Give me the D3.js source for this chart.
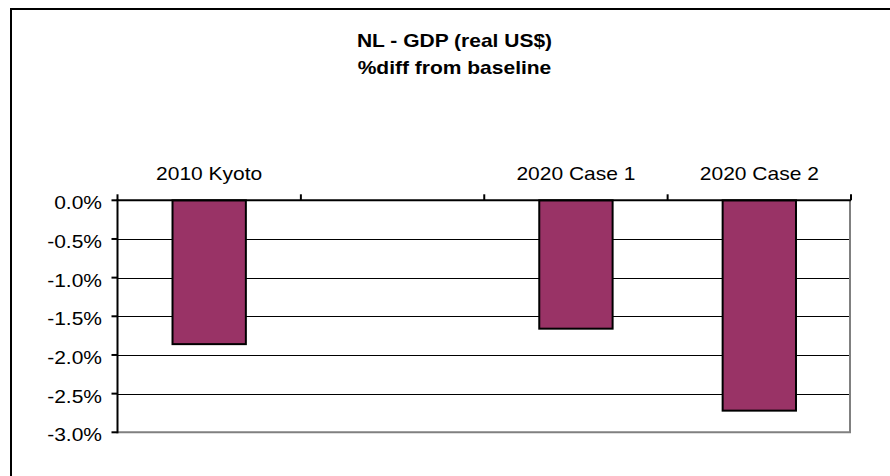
<!DOCTYPE html>
<html>
<head>
<meta charset="utf-8">
<script src="https://cdn.jsdelivr.net/npm/d3@7"></script>
<style>
  html, body { margin: 0; padding: 0; background: #fff; }
  svg { display: block; font-family: Arial, "Liberation Sans", sans-serif; }
</style>
</head>
<body>
<svg id="chart" width="890" height="476"></svg>
<script>
// Percentage change of real GDP (US$) from the baseline, Netherlands
const categories = ["2010 Kyoto", "", "2020 Case 1", "2020 Case 2"];
const gdpDiff = [-1.86, null, -1.66, -2.72];
const yTicks = [0, -0.5, -1.0, -1.5, -2.0, -2.5, -3.0];
const titleLines = ["NL - GDP (real US$)", "%diff from baseline"];

const svg = d3.select("#chart");
const stretch = 1.18;           // labels are drawn horizontally widened
const fontSize = 17.8;
const plot = { left: 117.5, right: 851, top: 200.3, bottom: 432.3 };

const x = d3.scaleBand().domain(d3.range(categories.length))
  .range([plot.left, plot.right]).padding(0);
const y = d3.scaleLinear().domain([-3, 0]).range([plot.bottom, plot.top]);
// plain hyphen for the minus sign
const fmt = v => d3.format(".1f")(Math.abs(v) < 1e-9 ? 0 : v).replace("\u2212", "-") + "%";

// outer frame (top and left edges run off the page)
svg.append("path")
  .attr("d", "M11,476V9H890")
  .attr("fill", "none").attr("stroke", "#000").attr("stroke-width", 2);

// title
svg.append("g").selectAll("text").data(titleLines).join("text")
  .attr("transform", (d, i) => `translate(454.5,${46.7 + i * 27.6}) scale(${stretch},1)`)
  .attr("text-anchor", "middle")
  .attr("font-size", fontSize).attr("font-weight", "bold")
  .text(d => d);

// horizontal gridlines
svg.append("g").selectAll("line").data(yTicks.filter(t => t < 0 && t > -3)).join("line")
  .attr("x1", plot.left).attr("x2", plot.right)
  .attr("y1", d => Math.round(y(d)) + 0.5).attr("y2", d => Math.round(y(d)) + 0.5)
  .attr("stroke", "#000").attr("stroke-width", 1);

// plot border, right and bottom sides
svg.append("path")
  .attr("d", `M${plot.left},${y(-3)}H${plot.right - 1}V${plot.top}`)
  .attr("fill", "none").attr("stroke", "#808080").attr("stroke-width", 2);

// bars
const barW = x.bandwidth() / 2.5;
svg.append("g").selectAll("rect")
  .data(gdpDiff.map((v, i) => ({ v, i })).filter(d => d.v !== null))
  .join("rect")
  .attr("x", d => x(d.i) + (x.bandwidth() - barW) / 2)
  .attr("y", y(0))
  .attr("width", barW)
  .attr("height", d => y(d.v) - y(0))
  .attr("fill", "#993366")
  .attr("stroke", "#000").attr("stroke-width", 2);

// value axis (left) with outward ticks
svg.append("line")
  .attr("x1", plot.left).attr("x2", plot.left)
  .attr("y1", y(0) - 1).attr("y2", y(-3) + 1)
  .attr("stroke", "#000").attr("stroke-width", 2);
svg.append("g").selectAll("line").data(yTicks).join("line")
  .attr("x1", plot.left - 6).attr("x2", plot.left)
  .attr("y1", d => y(d)).attr("y2", d => y(d))
  .attr("stroke", "#000").attr("stroke-width", 2);
svg.append("g").selectAll("text").data(yTicks).join("text")
  .attr("transform", d => `translate(${plot.left - 15.5},${y(d) + 9}) scale(${stretch},1)`)
  .attr("text-anchor", "end")
  .attr("font-size", fontSize).attr("fill", "#000")
  .text(fmt);

// category axis along zero, ticks pointing up, labels above
svg.append("line")
  .attr("x1", plot.left).attr("x2", plot.right)
  .attr("y1", y(0)).attr("y2", y(0))
  .attr("stroke", "#000").attr("stroke-width", 2);
const bounds = d3.range(categories.length + 1).map(i =>
  i < categories.length ? x(i) : x(categories.length - 1) + x.bandwidth());
svg.append("g").selectAll("line").data(bounds).join("line")
  .attr("x1", d => d).attr("x2", d => d)
  .attr("y1", y(0) - 6).attr("y2", y(0))
  .attr("stroke", "#000").attr("stroke-width", 2);
svg.append("g").selectAll("text").data(categories).join("text")
  .attr("transform", (d, i) => `translate(${x(i) + x.bandwidth() / 2},180) scale(${stretch},1)`)
  .attr("text-anchor", "middle")
  .attr("font-size", fontSize).attr("fill", "#000")
  .text(d => d);
</script>
</body>
</html>
